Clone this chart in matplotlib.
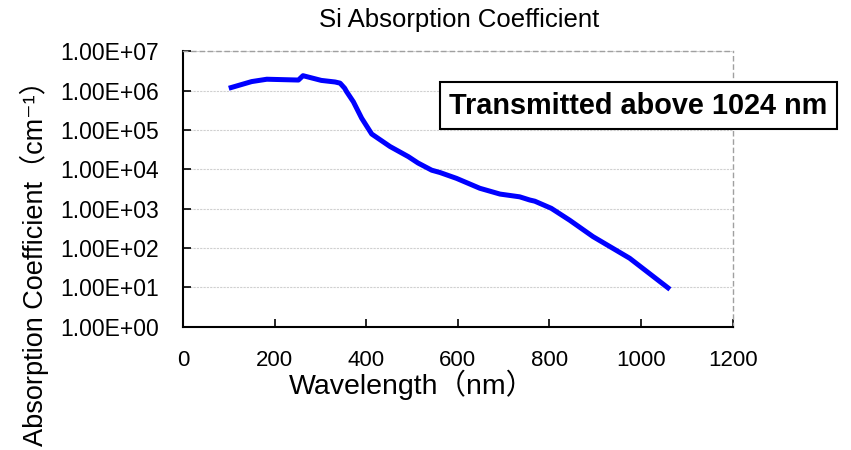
import numpy as np
import matplotlib.pyplot as plt
from matplotlib.ticker import FixedLocator, FixedFormatter

plt.rcParams['font.family'] = ['Liberation Sans', 'Noto Sans CJK JP', 'DejaVu Sans']

# wavelength (nm) and absorption coefficient (cm^-1)
wavelength = [100, 150, 183, 252, 262, 302, 332, 343, 353, 357, 372, 390, 412, 452,
              492, 513, 543, 561, 597, 648, 692, 735, 757, 768, 804, 844, 895, 975, 1063]
alpha = [1.15e6, 1.7e6, 1.95e6, 1.86e6, 2.4e6, 1.82e6, 1.66e6, 1.55e6, 1.15e6, 9.5e5,
         5.2e5, 2.0e5, 7.9e4, 3.8e4, 2.1e4, 1.45e4, 9.5e3, 8.3e3, 5.9e3, 3.3e3,
         2.35e3, 2.0e3, 1.66e3, 1.55e3, 1.02e3, 5.1e2, 1.95e2, 55, 8.9]

y_ticks = [1e0, 1e1, 1e2, 1e3, 1e4, 1e5, 1e6, 1e7]
y_labels = ['1.00E+00', '1.00E+01', '1.00E+02', '1.00E+03',
            '1.00E+04', '1.00E+05', '1.00E+06', '1.00E+07']
x_ticks = [0, 200, 400, 600, 800, 1000, 1200]

fig = plt.figure(figsize=(8.51, 4.5), dpi=100)
ax = fig.add_axes([0.215, 0.274, 0.646, 0.612])

ax.plot(wavelength, alpha, color='#0000ff', lw=3.6, solid_capstyle='butt')

ax.set_yscale('log')
ax.set_ylim(1, 1e7)
ax.set_xlim(0, 1200)
ax.yaxis.set_major_locator(FixedLocator(y_ticks))
ax.yaxis.set_major_formatter(FixedFormatter(y_labels))
ax.yaxis.set_minor_locator(FixedLocator([]))
ax.set_xticks(x_ticks)

ax.tick_params(direction='in', length=6, width=1.2, color='black')
ax.tick_params(axis='x', pad=17, labelsize=16)
ax.tick_params(axis='y', pad=17, labelsize=16.5)

ax.grid(axis='y', color='#d0d0d0', lw=0.8, ls=(0, (2, 1)))
for s in ['left', 'bottom']:
    ax.spines[s].set_linewidth(1.5)
for s in ['top', 'right']:
    ax.spines[s].set_color('#a0a0a0')
    ax.spines[s].set_linestyle((0, (3, 3)))
    ax.spines[s].set_linewidth(1.0)

fig.text(0.54, 0.956, 'Si Absorption Coefficient', ha='center', va='center', fontsize=18.5)
fig.text(0.484, 0.145, 'Wavelength（nm）', ha='center', va='center', fontsize=20.5)
fig.text(0.041, 0.43, 'Absorption Coefficient（cm⁻¹）', ha='center', va='center',
         rotation=90, fontsize=19.5)

fig.text(0.75, 0.765, 'Transmitted above 1024 nm', ha='center', va='center',
         fontsize=20.8, fontweight='bold',
         bbox=dict(boxstyle='square,pad=0.33', fc='white', ec='black', lw=1.5))

fig.savefig('out.png', dpi=100)
